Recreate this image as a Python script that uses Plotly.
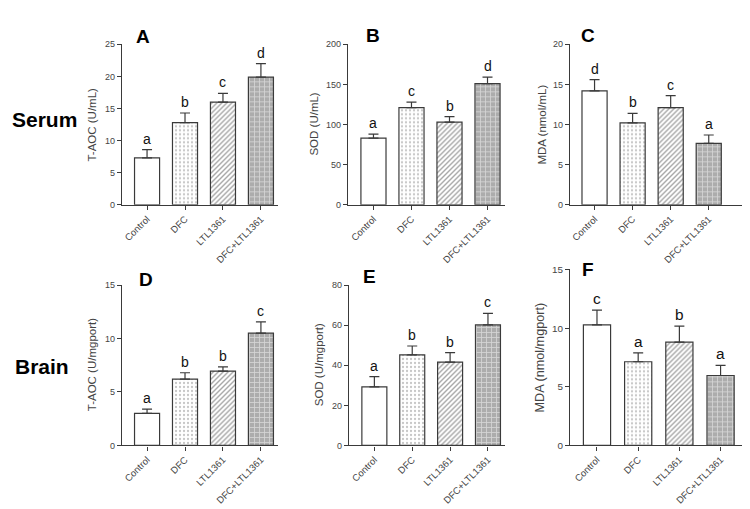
import plotly.graph_objects as go

groups = ["Control", "DFC", "LTL1361", "DFC+LTL1361"]

# serum
taoc_serum = [7.3, 12.8, 16.0, 19.9]
taoc_serum_err = [1.3, 1.5, 1.35, 2.1]
taoc_serum_sig = ["a", "b", "c", "d"]

sod_serum = [83, 121, 103, 151]
sod_serum_err = [5, 7, 7, 8]
sod_serum_sig = ["a", "c", "b", "d"]

mda_serum = [14.2, 10.2, 12.1, 7.65]
mda_serum_err = [1.4, 1.2, 1.5, 1.05]
mda_serum_sig = ["d", "b", "c", "a"]

# brain
taoc_brain = [3.0, 6.2, 6.95, 10.5]
taoc_brain_err = [0.4, 0.6, 0.4, 1.05]
taoc_brain_sig = ["a", "b", "b", "c"]

sod_brain = [29.2, 45.2, 41.6, 60.1]
sod_brain_err = [5.1, 4.4, 4.7, 5.8]
sod_brain_sig = ["a", "b", "b", "c"]

mda_brain = [10.28, 7.13, 8.8, 5.96]
mda_brain_err = [1.25, 0.75, 1.37, 0.86]
mda_brain_sig = ["c", "a", "b", "a"]

W, H = 750, 509
FONT = "Liberation Sans, Arial, sans-serif"
LINE = "#3a3a3a"


def px_x(p):
    return p / W


def px_y(p):
    return 1 - p / H


panels = [
    # letter, values, err, sig, ytitle, ymax, dtick, x domain px, y domain px, x range, letter pos, title x, scale
    ("A", taoc_serum, taoc_serum_err, taoc_serum_sig, "T-AOC (U/mL)", 25, 5,
     (114, 270), (195, 31), (-0.66, 3.45), (135, 23), 84, 1.0),
    ("B", sod_serum, sod_serum_err, sod_serum_sig, "SOD (U/mL)", 200, 50,
     (340, 497), (195, 31), (-0.67, 3.46), (365, 22), 306, 1.0),
    ("C", mda_serum, mda_serum_err, mda_serum_sig, "MDA (nmol/mL)", 20, 5,
     (562, 735), (195, 31), (-0.645, 3.9), (580, 22), 534, 1.0),
    ("D", taoc_brain, taoc_brain_err, taoc_brain_sig, "T-AOC (U/mgport)", 15, 5,
     (114, 270), (441, 277), (-0.66, 3.45), (138, 271), 84, 1.0),
    ("E", sod_brain, sod_brain_err, sod_brain_sig, "SOD (U/mgport)", 80, 20,
     (341, 497), (441, 277), (-0.67, 3.45), (361, 268), 311, 1.0),
    ("F", mda_brain, mda_brain_err, mda_brain_sig, "MDA (nmol/mgport)", 15, 5,
     (562, 741), (441, 261), (-0.655, 3.69), (580, 261), 532, 1.1),
]

fills = [
    dict(color="white", pattern=dict(shape="")),
    dict(color="white", pattern=dict(shape=".", fgcolor="#8c8c8c", size=4, solidity=0.25)),
    dict(color="white", pattern=dict(shape="/", fgcolor="#505050", size=3.5, solidity=0.4)),
    dict(color="#acacac", pattern=dict(shape="+", fgcolor="white", size=5, solidity=0.3,
                                       fillmode="overlay")),
]

fig = go.Figure()
annotations = []

for i, (letter, vals, errs, sig, ytitle, ymax, dtick, xd, yd, xr, lpos, tx, sc) in enumerate(panels):
    n = "" if i == 0 else str(i + 1)
    for j, g in enumerate(groups):
        fig.add_trace(go.Bar(
            x=[g],
            y=[vals[j]],
            xaxis="x" + n,
            yaxis="y" + n,
            width=0.66,
            marker=dict(color=fills[j]["color"], pattern=fills[j]["pattern"],
                        line=dict(color=LINE, width=1.2)),
            error_y=dict(type="data", symmetric=False, array=[errs[j]], arrayminus=[0],
                         color=LINE, thickness=1.2, width=5),
            showlegend=False,
            hoverinfo="skip",
        ))
        annotations.append(dict(
            x=g, y=vals[j] + errs[j], xref="x" + n, yref="y" + n,
            text=sig[j], showarrow=False, yanchor="bottom", yshift=1,
            font=dict(family=FONT, size=14 * sc, color="#111"),
        ))

    fig.update_layout({
        "xaxis" + n: dict(
            domain=[px_x(xd[0]), px_x(xd[1])],
            anchor="y" + n,
            range=list(xr),
            categoryorder="array", categoryarray=groups,
            showline=True, linecolor=LINE, linewidth=1.2,
            ticks="outside", ticklen=4, tickcolor=LINE, tickwidth=1,
            tickangle=-45,
            tickfont=dict(family=FONT, size=9.5, color="#444"),
            showgrid=False, zeroline=False, fixedrange=True,
        ),
        "yaxis" + n: dict(
            domain=[px_y(yd[0]), px_y(yd[1])],
            anchor="x" + n,
            range=[0, ymax],
            dtick=dtick,
            showline=True, linecolor=LINE, linewidth=1.2,
            ticks="outside", ticklen=4, tickcolor=LINE, tickwidth=1,
            tickfont=dict(family=FONT, size=9 * sc, color="#444"),
            showgrid=False, zeroline=False, fixedrange=True,
        ),
    })

    annotations.append(dict(
        x=px_x(lpos[0]), y=px_y(lpos[1]), xref="paper", yref="paper",
        text="<b>%s</b>" % letter, showarrow=False,
        xanchor="center", yanchor="middle",
        font=dict(family=FONT, size=19, color="#000"),
    ))
    annotations.append(dict(
        x=px_x(tx), y=(px_y(yd[0]) + px_y(yd[1])) / 2, xref="paper", yref="paper",
        text=ytitle, showarrow=False, textangle=-90,
        xanchor="center", yanchor="middle",
        font=dict(family=FONT, size=11.5 * sc, color="#444"),
    ))

annotations.append(dict(
    x=px_x(36), y=px_y(108), xref="paper", yref="paper",
    text="<b>Serum</b>", showarrow=False, xanchor="center", yanchor="middle",
    font=dict(family=FONT, size=21, color="#000"),
))
annotations.append(dict(
    x=px_x(34), y=px_y(360), xref="paper", yref="paper",
    text="<b>Brain</b>", showarrow=False, xanchor="center", yanchor="middle",
    font=dict(family=FONT, size=21, color="#000"),
))

fig.update_layout(
    width=W, height=H,
    margin=dict(l=0, r=0, t=0, b=0),
    paper_bgcolor="white", plot_bgcolor="white",
    barmode="group",
    annotations=annotations,
    font=dict(family=FONT),
)

fig.write_html("out.html")
